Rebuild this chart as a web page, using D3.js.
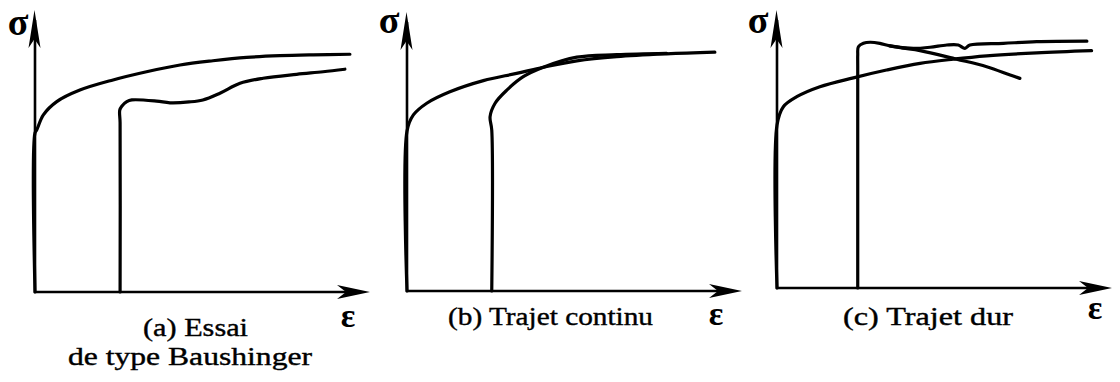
<!DOCTYPE html>
<html>

<head>
  <meta charset="utf-8">
  <title>Trajets de chargement</title>
  <script src="https://cdnjs.cloudflare.com/ajax/libs/d3/7.8.5/d3.min.js"></script>
  <style>
    body {
      margin: 0;
      background: #fff;
    }

    .curve {
      fill: none;
      stroke: #000;
      stroke-width: 3.2px;
      stroke-linecap: round;
      stroke-linejoin: round;
    }

    .axis-line {
      stroke: #000;
      stroke-width: 2.6px;
    }

    .arrow {
      fill: #000;
    }

    text {
      font-family: "Liberation Serif", "Times New Roman", serif;
      fill: #000;
    }

    .caption {
      stroke: #000;
      stroke-width: 0.4px;
    }
  </style>
</head>

<body>
  <div id="canvas"></div>

  <script>
    /*
    Data : [strain, stress] in arbitrary units (0..100 along each axis)
    */
    var captions = ["(a) Essai", "(b) Trajet continu", "(c) Trajet dur"];
    var captionsLine2 = ["de type Baushinger", "", ""];

    // (a) monotonic curve and reloading after reversal
    var monoA = [[0, 0], [0, 56.4], [0.5, 57.4], [2.5, 62.8], [6.5, 67.5], [13.4, 71.6], [23.3, 75.2],
      [33.3, 78.1], [43.3, 80.5], [53.1, 82.0], [63.2, 83.2], [73.1, 83.8], [83.0, 84.1], [94.0, 84.3]];
    var pathA = [[25.4, 0], [25.4, 60], [25.3, 64.5], [25.9, 65.9], [27.4, 67.5], [28.9, 68.1],
      [36.3, 67.7], [40.3, 67.1], [46, 67.4], [50.1, 68.1], [55.2, 70.5], [61.2, 74.0], [68.1, 75.8],
      [78.1, 77.2], [86.0, 78.1], [92.5, 79.0]];

    // (b)
    var monoB = [[0, 0], [0, 57.3], [1.9, 63.1], [5.9, 67.3], [12.8, 71.4], [22.8, 75.4], [32.7, 78.0],
      [40.7, 80.2], [50.7, 82.5], [62.6, 84.0], [77.5, 85.0], [91.9, 85.6]];
    var pathB = [[25.3, 0], [25.3, 57.7], [24.8, 62.5], [26.3, 67.3], [29.8, 72.0], [34.7, 76.8],
      [40.7, 80.2], [50.7, 83.8], [62.6, 84.7], [77.5, 85.2]];

    // (c)
    var monoC = [[0, 0], [0, 58.6], [1.9, 65.2], [5.9, 68.8], [12.8, 72.4], [22.8, 75.6], [32.7, 78.4],
      [42.7, 80.8], [52.6, 82.3], [62.6, 83.5], [77.5, 84.6], [93.9, 85.4]];
    var pathC = [[24.1, 0], [24.1, 80], [24.1, 83.8], [24.3, 86.8], [25.8, 88.0], [27.8, 88.4],
      [30.7, 88.0], [33.7, 87.1], [40.7, 86.2], [45.7, 86.6], [50.7, 87.4], [54.1, 87.4], [56.1, 86.2],
      [57.6, 87.4], [67.6, 88.0], [77.5, 88.6], [92.5, 88.8]];
    var softC = [[33.7, 87.1], [37.6, 86.3], [42.7, 85.4], [53.6, 82.3], [62.6, 79.6], [69.6, 76.6],
      [72.5, 75.4]];

    var curvesByPanel = [[monoA, pathA], [monoB, pathB], [monoC, pathC, softC]];

    /*
    Layout (pixels)
    */
    var outerWidth = 1120,
      outerHeight = 382;

    var frames = [
      { ox: 35, oy: 292, tipX: 370, tipY: 10, sigmaX: 18, sigmaY: 35, epsX: 348, epsY: 327,
        capX: 143, capW: 105, capY: 336, cap2X: 68, cap2W: 244, cap2Y: 365 },
      { ox: 407, oy: 291, tipX: 742, tipY: 12, sigmaX: 389, sigmaY: 33, epsX: 716, epsY: 325,
        capX: 448, capW: 205, capY: 325 },
      { ox: 777, oy: 288, tipX: 1112, tipY: 10, sigmaX: 758, sigmaY: 33, epsX: 1095, epsY: 319,
        capX: 843, capW: 170, capY: 325 }
    ];

    /*
    Arrow head: tip, direction, length, half width, notch depth
    */
    function arrowHead(tx, ty, dx, dy, len, hw, notch) {
      var nx = -dy, ny = dx;
      var bx = tx - dx * len, by = ty - dy * len;
      var p = d3.path();
      p.moveTo(tx, ty);
      p.lineTo(bx + nx * hw, by + ny * hw);
      p.lineTo(tx - dx * (len - notch), ty - dy * (len - notch));
      p.lineTo(bx - nx * hw, by - ny * hw);
      p.closePath();
      return p.toString();
    }

    function drawPanel(svg, f, curves, i) {
      var x = d3.scaleLinear().domain([0, 100]).range([f.ox, f.tipX]);
      var y = d3.scaleLinear().domain([0, 100]).range([f.oy, f.tipY]);

      var g = svg.append("g").attr("class", "panel");

      // axes
      g.append("line").attr("class", "axis-line")
        .attr("x1", x(0) - 1).attr("y1", y(0))
        .attr("x2", x(100) - 10).attr("y2", y(0));
      g.append("line").attr("class", "axis-line")
        .attr("x1", x(0)).attr("y1", y(0) + 1)
        .attr("x2", x(0)).attr("y2", y(100) + 10);

      g.append("path").attr("class", "arrow")
        .attr("d", arrowHead(x(100), y(0), 1, 0, 33, 7, 9));
      g.append("path").attr("class", "arrow")
        .attr("d", arrowHead(x(0) - 0.5, y(100), 0, -1, 38, 6, 9));

      // curves
      var line = d3.line()
        .x(function (d) { return x(d[0]); })
        .y(function (d) { return y(d[1]); })
        .curve(d3.curveCatmullRom.alpha(0.5));

      g.selectAll("path.curve")
        .data(curves)
        .enter()
        .append("path")
        .attr("class", "curve")
        .attr("d", line);

      // labels
      g.append("text")
        .attr("x", f.sigmaX).attr("y", f.sigmaY)
        .attr("text-anchor", "middle")
        .attr("font-size", 38).attr("font-weight", "bold")
        .text("σ");
      g.append("text")
        .attr("x", f.epsX).attr("y", f.epsY)
        .attr("text-anchor", "middle")
        .attr("font-size", 34).attr("font-weight", "bold")
        .text("ε");

      g.append("text")
        .attr("class", "caption")
        .attr("x", f.capX).attr("y", f.capY)
        .attr("font-size", 26)
        .attr("textLength", f.capW).attr("lengthAdjust", "spacingAndGlyphs")
        .text(captions[i]);

      if (captionsLine2[i]) {
        g.append("text")
          .attr("class", "caption")
          .attr("x", f.cap2X).attr("y", f.cap2Y)
          .attr("font-size", 26)
          .attr("textLength", f.cap2W).attr("lengthAdjust", "spacingAndGlyphs")
          .text(captionsLine2[i]);
      }
    }

    function draw() {
      var svg = d3.select("#canvas")
        .append("svg")
        .attr("width", outerWidth)
        .attr("height", outerHeight);

      frames.forEach(function (f, i) {
        drawPanel(svg, f, curvesByPanel[i], i);
      });
    }

    draw();
  </script>
</body>

</html>
